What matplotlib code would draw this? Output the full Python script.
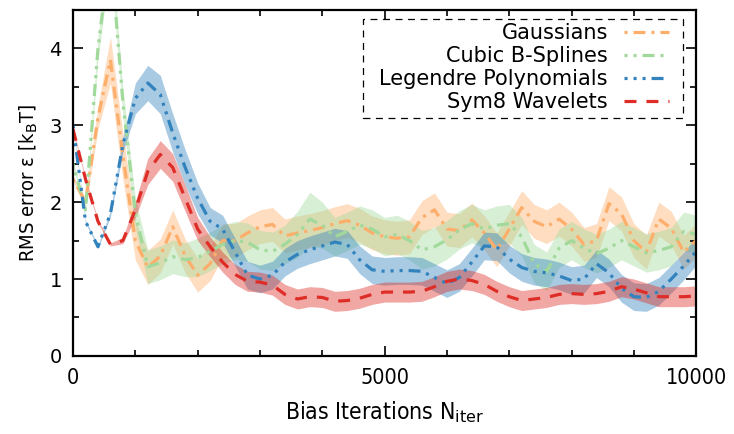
import numpy as np
import matplotlib
matplotlib.use("Agg")
import matplotlib.pyplot as plt
from matplotlib.ticker import MultipleLocator
from matplotlib.patches import Rectangle

plt.rcParams['font.family'] = ['DejaVu Sans']
plt.rcParams['lines.scale_dashes'] = False

# iterations (common grid for all series)
iters = np.arange(0, 10001, 200)

gauss = [2.3, 2.0, 3.1, 3.85, 2.6, 1.5, 1.15, 1.3, 1.68, 1.3,
         1.05, 1.2, 1.5, 1.5, 1.6, 1.68, 1.71, 1.56, 1.6, 1.63,
         1.67, 1.72, 1.76, 1.7, 1.6, 1.55, 1.53, 1.55, 1.8, 1.9,
         1.65, 1.63, 1.77, 1.6, 1.38, 1.65, 1.93, 1.75, 1.68, 1.78,
         1.65, 1.45, 1.5, 1.98, 1.85, 1.5, 1.35, 1.78, 1.66, 1.35,
         1.5]
gauss_err = [0.03, 0.05, 0.15, 0.3, 0.3, 0.25, 0.22, 0.22, 0.22, 0.22,
             0.22, 0.22, 0.22, 0.22, 0.22, 0.22, 0.22, 0.22, 0.22, 0.22,
             0.22, 0.22, 0.22, 0.22, 0.22, 0.22, 0.22, 0.22, 0.22, 0.22,
             0.22, 0.22, 0.22, 0.22, 0.22, 0.22, 0.22, 0.22, 0.22, 0.22,
             0.22, 0.22, 0.22, 0.22, 0.22, 0.22, 0.22, 0.22, 0.22, 0.22,
             0.22]

spline = [2.5, 1.9, 4.0, 5.3, 3.3, 1.85, 1.16, 1.21, 1.29, 1.25,
          1.28, 1.36, 1.45, 1.5, 1.48, 1.38, 1.36, 1.45, 1.58, 1.78,
          1.7, 1.55, 1.62, 1.7, 1.65, 1.55, 1.58, 1.5, 1.38, 1.42,
          1.51, 1.64, 1.72, 1.65, 1.7, 1.72, 1.55, 1.2, 1.1, 1.4,
          1.5, 1.4, 1.33, 1.4, 1.5, 1.42, 1.34, 1.37, 1.42, 1.62,
          1.58]
spline_err = [0.03, 0.05, 0.15, 0.2, 0.18, 0.2, 0.22, 0.22, 0.22, 0.22,
              0.25, 0.25, 0.25, 0.25, 0.25, 0.25, 0.25, 0.25, 0.3, 0.35,
              0.3, 0.25, 0.25, 0.25, 0.25, 0.25, 0.25, 0.25, 0.25, 0.25,
              0.25, 0.25, 0.25, 0.25, 0.25, 0.25, 0.25, 0.25, 0.25, 0.25,
              0.25, 0.25, 0.25, 0.25, 0.25, 0.25, 0.25, 0.25, 0.25, 0.25,
              0.25]

legendre = [3.0, 1.75, 1.42, 1.85, 2.75, 3.35, 3.55, 3.4, 2.9, 2.45,
            2.05, 1.75, 1.65, 1.35, 1.05, 1.0, 1.05, 1.22, 1.32, 1.38,
            1.43, 1.48, 1.45, 1.25, 1.12, 1.1, 1.11, 1.11, 1.1, 1.02,
            0.94, 1.02, 1.22, 1.43, 1.42, 1.26, 1.15, 1.1, 1.08, 1.04,
            0.98, 1.0, 1.2, 1.08, 0.88, 0.77, 0.76, 0.84, 1.0, 1.17,
            1.36]
legendre_err = [0.02, 0.02, 0.02, 0.04, 0.1, 0.2, 0.23, 0.25, 0.25, 0.23,
                0.2, 0.18, 0.18, 0.18, 0.18, 0.18, 0.18, 0.18, 0.18, 0.18,
                0.18, 0.18, 0.18, 0.18, 0.18, 0.18, 0.18, 0.18, 0.18, 0.18,
                0.18, 0.18, 0.18, 0.18, 0.18, 0.18, 0.18, 0.18, 0.18, 0.18,
                0.18, 0.18, 0.18, 0.18, 0.18, 0.18, 0.18, 0.18, 0.18, 0.18,
                0.18]

sym8 = [2.95, 2.3, 1.75, 1.45, 1.5, 1.9, 2.4, 2.62, 2.45, 2.05,
        1.65, 1.42, 1.22, 1.06, 0.97, 0.96, 0.92, 0.8, 0.74, 0.77,
        0.76, 0.71, 0.72, 0.75, 0.8, 0.83, 0.83, 0.83, 0.84, 0.9,
        0.97, 1.0, 0.98, 0.93, 0.84, 0.77, 0.72, 0.74, 0.76, 0.8,
        0.81, 0.8, 0.81, 0.84, 0.9, 0.87, 0.82, 0.77, 0.77, 0.77,
        0.78]
sym8_err = [0.02, 0.02, 0.02, 0.02, 0.04, 0.1, 0.17, 0.18, 0.18, 0.17,
            0.15, 0.13, 0.13, 0.13, 0.13, 0.13, 0.13, 0.13, 0.13, 0.13,
            0.13, 0.13, 0.13, 0.13, 0.13, 0.13, 0.13, 0.13, 0.13, 0.13,
            0.13, 0.13, 0.13, 0.13, 0.13, 0.13, 0.13, 0.13, 0.13, 0.13,
            0.13, 0.13, 0.13, 0.13, 0.13, 0.13, 0.13, 0.13, 0.13, 0.13,
            0.13]

labels = ['Gaussians', 'Cubic B-Splines', 'Legendre Polynomials', 'Sym8 Wavelets']
colors = ['#fdae6b', '#a1d99b', '#3182bd', '#de2d26']
# dash patterns in points (dot = 2.2, dash = 8.6, gap = 4.3)
dashes = [(0, (2.2, 4.3, 8.6, 4.3)),
          (0, (2.2, 4.3, 2.2, 4.3, 8.6, 4.3)),
          (0, (2.2, 4.3, 2.2, 4.3, 2.2, 4.3, 8.6, 4.3)),
          (0, (8.6, 7.2))]

fig = plt.figure(figsize=(7.34, 4.34), dpi=100)
ax = fig.add_axes([0.0995, 0.18, 0.849, 0.797])

series = [(gauss, gauss_err), (spline, spline_err), (legendre, legendre_err), (sym8, sym8_err)]
for (y, e), c in zip(series, colors):
    y = np.array(y)
    e = np.array(e)
    ax.fill_between(iters, y - e, y + e, color=c, alpha=0.42, lw=0)
for (y, e), c, ls, lab in zip(series, colors, dashes, labels):
    ax.plot(iters, y, color=c, lw=2.3, linestyle=ls, dash_capstyle='butt', label=lab)

ax.set_xlim(0, 10000)
ax.set_ylim(0, 4.5)
ax.xaxis.set_major_locator(MultipleLocator(5000))
ax.xaxis.set_minor_locator(MultipleLocator(1000))
ax.yaxis.set_major_locator(MultipleLocator(1))
ax.yaxis.set_minor_locator(MultipleLocator(0.5))
ax.tick_params(which='both', direction='in', top=True, right=True, width=1.2)
ax.tick_params(which='major', length=7)
ax.tick_params(which='minor', length=4)
ax.tick_params(axis='x', pad=9, labelsize=15.5)
ax.tick_params(axis='y', pad=8, labelsize=14)
for lbl in ax.get_xticklabels():
    lbl.set_fontstretch('condensed')
for s in ax.spines.values():
    s.set_linewidth(1.6)

ax.set_xlabel(r'Bias Iterations N$_\mathrm{iter}$', fontsize=16.5, fontstretch='condensed', labelpad=8)
ax.set_ylabel(r'RMS error ε [k$_\mathrm{B}$T]', fontsize=14.5, fontstretch='condensed', labelpad=7)

# dashed legend box drawn separately (gnuplot style padding)
box = Rectangle((0.4655, 0.688), 0.979 - 0.4655, 0.974 - 0.688, transform=ax.transAxes,
                fill=True, facecolor='white', edgecolor='black', lw=0.9,
                linestyle=(0, (5, 4)), zorder=4)
ax.add_patch(box)
leg = ax.legend(loc='upper right', bbox_to_anchor=(0.957, 0.962), borderaxespad=0,
                markerfirst=False, fontsize=15, handlelength=2.2, handletextpad=0.75,
                labelspacing=0.14, borderpad=0, frameon=False)
leg.set_zorder(5)
for t in leg.get_texts():
    t.set_ha('right')

fig.savefig('out.png', dpi=100)
